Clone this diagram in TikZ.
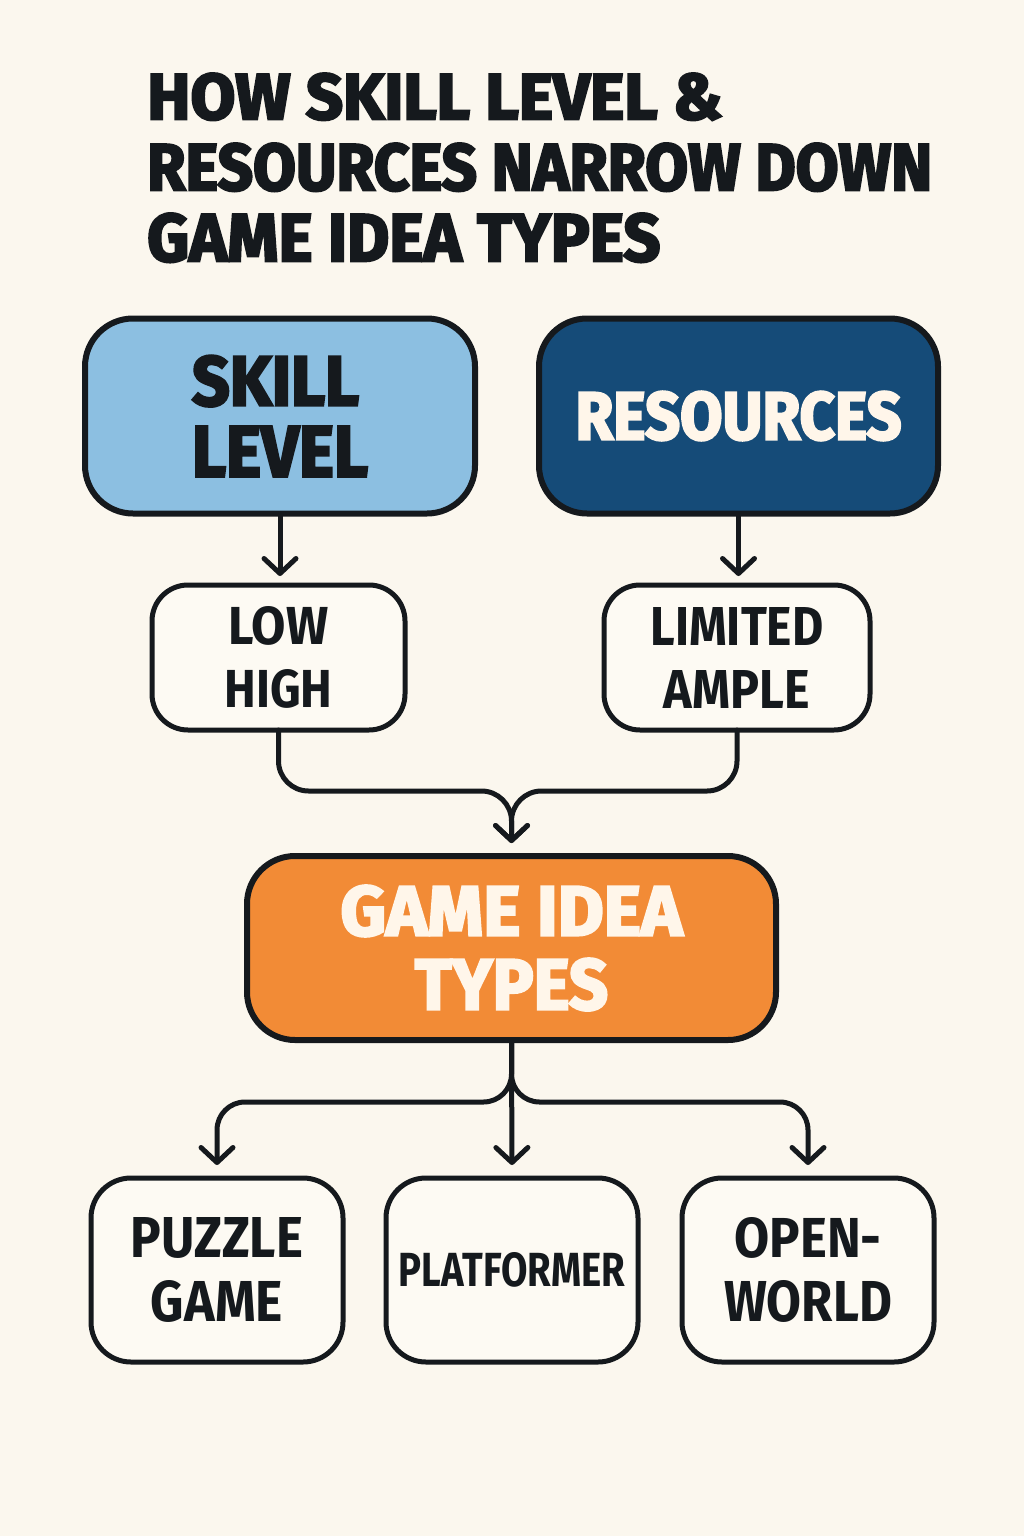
\documentclass[tikz,border=0pt]{standalone}
\usepackage{fontspec}
\setmainfont{Fira Sans}
\newfontfamily\heavyfont{Fira Sans}[BoldFeatures={FakeBold=3.5}]
\usetikzlibrary{arrows.meta,calc}
\definecolor{bg}{HTML}{FBF7EE}
\definecolor{ink}{HTML}{15191D}
\definecolor{lightblue}{HTML}{8CBFE1}
\definecolor{darkblue}{HTML}{154B78}
\definecolor{orangefill}{HTML}{F28B36}
\definecolor{boxfill}{HTML}{FDFAF3}
\definecolor{creamtext}{HTML}{FFF6EA}
\newcommand\fitt[3]{\resizebox{#1pt}{#2pt}{\bfseries #3}}
\newcommand\fith[3]{\resizebox{#1pt}{#2pt}{\heavyfont\bfseries #3}}
\begin{document}
\begin{tikzpicture}[x=1pt,y=-1pt,
  bigbox/.style={draw=ink, line width=6pt, rounded corners=48pt, inner sep=0pt, outer sep=0pt, text=ink},
  smallbox/.style={draw=ink, line width=5pt, rounded corners=36pt, inner sep=0pt, outer sep=0pt, fill=boxfill, text=ink},
  conn/.style={draw=ink, line width=5pt, line cap=round, line join=round,
    -{Straight Barb[length=15pt,width=32pt,line cap=round,line join=round]}},
]
\useasboundingbox (0,0) rectangle (1024,1536);
\fill[bg] (0,0) rectangle (1024,1536);

% title
\node[anchor=north west, inner sep=0pt, align=left, text=ink,
      font=\fontsize{10pt}{71pt}\selectfont] (title) at (147,73)
  {\fith{575}{46}{HOW SKILL LEVEL \&}\\\fith{785}{47}{RESOURCES NARROW DOWN}\\\fith{513}{48}{GAME IDEA TYPES}};

% top boxes
\node[bigbox, fill=lightblue, minimum width=390pt, minimum height=195pt, align=left,
      font=\fontsize{10pt}{71pt}\selectfont] (skill) at (280,416)
  {\fith{167}{50}{SKILL}\\\fith{176}{50}{LEVEL}};
\node[bigbox, fill=darkblue, text=creamtext, minimum width=399pt, minimum height=195pt] (res) at (738.5,416)
  {\fith{326}{48}{RESOURCES}};

% option boxes
\node[smallbox, minimum width=253pt, minimum height=145pt, align=center,
      font=\fontsize{10pt}{63pt}\selectfont] (low) at (278.5,657.5)
  {\fitt{100}{38}{LOW}\\\fitt{108}{38}{HIGH}};
\node[smallbox, minimum width=266pt, minimum height=145pt, align=center,
      font=\fontsize{10pt}{63pt}\selectfont] (lim) at (737,657.5)
  {\fitt{173}{38}{LIMITED}\\\fitt{146}{38}{AMPLE}};

% central box
\node[bigbox, fill=orangefill, text=creamtext, minimum width=529pt, minimum height=184pt, align=center,
      font=\fontsize{10pt}{74pt}\selectfont] (game) at (511.5,948)
  {\fith{342}{50}{GAME IDEA}\\\fith{193}{51}{TYPES}};

% result boxes
\node[smallbox, rounded corners=40pt, minimum width=252pt, minimum height=184pt, align=center,
      font=\fontsize{10pt}{64pt}\selectfont] (puz) at (217,1270)
  {\fitt{172}{40}{PUZZLE}\\\fitt{132}{41}{GAME}};
\node[smallbox, rounded corners=40pt, minimum width=252pt, minimum height=184pt] (plat) at (512,1270)
  {\fitt{226}{34}{PLATFORMER}};
\node[smallbox, rounded corners=40pt, minimum width=252pt, minimum height=184pt, align=center,
      font=\fontsize{10pt}{64pt}\selectfont] (open) at (808,1270)
  {\fitt{147}{40}{OPEN-}\\\fitt{168}{41}{WORLD}};

% connectors
\draw[conn, shorten >=9pt] (skill.south) -- (skill.south |- low.north);
\draw[conn, shorten >=9pt] (res.south) -- (res.south |- lim.north);

\draw[conn] (low.south) -- ($(low.south)+(0,31)$)
  .. controls ($(low.south)+(0,47.5)$) and ($(low.south)+(13.5,61)$) .. ($(low.south)+(30,61)$)
  -- ($(game.north)+(-30,-65)$)
  .. controls ($(game.north)+(-13.5,-65)$) and ($(game.north)+(0,-51.5)$) .. ($(game.north)+(0,-35)$)
  -- ($(game.north)+(0,-13)$);
\draw[conn] (lim.south) -- ($(lim.south)+(0,31)$)
  .. controls ($(lim.south)+(0,47.5)$) and ($(lim.south)+(-13.5,61)$) .. ($(lim.south)+(-30,61)$)
  -- ($(game.north)+(30,-65)$)
  .. controls ($(game.north)+(13.5,-65)$) and ($(game.north)+(0,-51.5)$) .. ($(game.north)+(0,-35)$)
  -- ($(game.north)+(0,-13)$);

\draw[conn, rounded corners=28pt, shorten >=13pt] (game.south) |- ($(puz.north)+(0,-76)$) -- (puz.north);
\draw[conn, shorten >=13pt] (game.south) -- (plat.north);
\draw[conn, rounded corners=28pt, shorten >=13pt] (game.south) |- ($(open.north)+(0,-76)$) -- (open.north);
\end{tikzpicture}
\end{document}
